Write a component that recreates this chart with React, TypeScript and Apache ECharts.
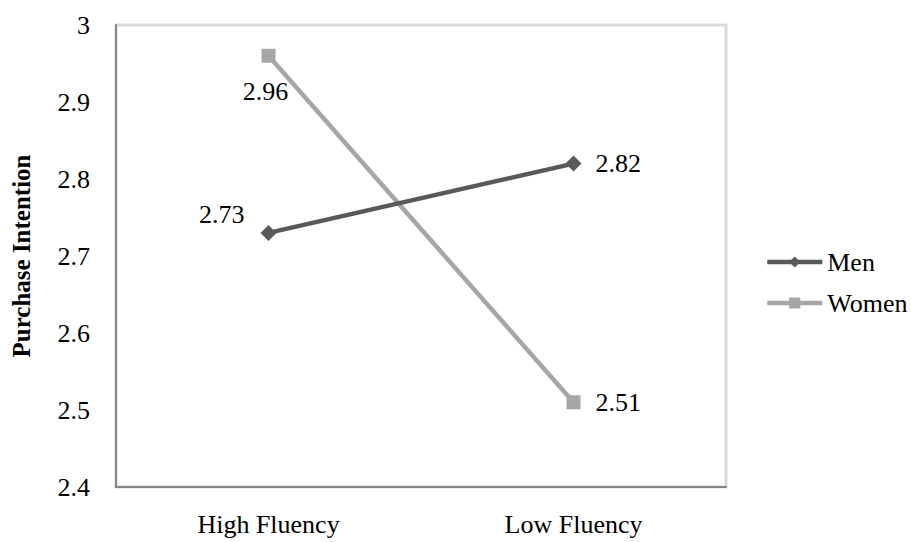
import React, { useEffect, useRef } from "react";
import * as echarts from "echarts";

const categories = ["High Fluency", "Low Fluency"];
const menValues = [2.73, 2.82];
const womenValues = [2.96, 2.51];
const yMin = 2.4;
const yMax = 3;
const yStep = 0.1;

const FONT = "Liberation Serif";

export default function App() {
  const ref = useRef<HTMLDivElement | null>(null);

  useEffect(() => {
    if (!ref.current) return;
    const chart = echarts.init(ref.current, undefined, { renderer: "svg" });
    const textBase = { fontFamily: FONT, fontSize: 26, color: "#000" };

    chart.setOption({
      animation: false,
      backgroundColor: "#fff",
      textStyle: { fontFamily: FONT },
      grid: {
        left: 116,
        right: 185,
        top: 25,
        bottom: 55,
        show: true,
        borderColor: "#d9d9d9",
        borderWidth: 3,
        backgroundColor: "#fff",
      },
      legend: {
        orient: "vertical",
        left: 765,
        top: 249,
        padding: 0,
        itemWidth: 55,
        itemHeight: 14,
        itemGap: 15,
        lineStyle: { width: 4.5 },
        textStyle: { ...textBase },
        data: ["Men", "Women"],
      },
      xAxis: {
        type: "category",
        data: categories,
        boundaryGap: true,
        axisLine: { show: true, lineStyle: { color: "#868686", width: 2 } },
        axisTick: { show: false },
        axisLabel: { ...textBase, margin: 24 },
        splitLine: { show: false },
      },
      yAxis: {
        type: "value",
        min: yMin,
        max: yMax,
        interval: yStep,
        name: "Purchase Intention",
        nameLocation: "middle",
        nameRotate: 90,
        nameGap: 82,
        nameTextStyle: { fontFamily: FONT, fontSize: 25, fontWeight: "bold", color: "#000" },
        axisLine: { show: true, lineStyle: { color: "#868686", width: 2 } },
        axisTick: { show: false },
        splitLine: { show: false },
        axisLabel: {
          ...textBase,
          margin: 26,
          formatter: (v: number) => String(+v.toFixed(1)),
        },
      },
      series: [
        {
          name: "Men",
          type: "line",
          symbol: "diamond",
          symbolSize: 16,
          lineStyle: { color: "#595959", width: 4.5 },
          itemStyle: { color: "#595959" },
          z: 3,
          label: {
            show: true,
            ...textBase,
            formatter: (p: any) => p.value.toFixed(2),
          },
          emphasis: { disabled: true },
          data: [
            { value: menValues[0], label: { position: "left", distance: 16, offset: [0, -18] } },
            { value: menValues[1], label: { position: "right", distance: 14 } },
          ],
        },
        {
          name: "Women",
          type: "line",
          symbol: "rect",
          symbolSize: 14,
          lineStyle: { color: "#a6a6a6", width: 4.5 },
          itemStyle: { color: "#a6a6a6" },
          z: 2,
          label: {
            show: true,
            ...textBase,
            formatter: (p: any) => p.value.toFixed(2),
          },
          emphasis: { disabled: true },
          data: [
            { value: womenValues[0], label: { position: "bottom", distance: 16, offset: [-3, 0] } },
            { value: womenValues[1], label: { position: "right", distance: 15 } },
          ],
        },
      ],
    });

    return () => chart.dispose();
  }, []);

  return (
    <div
      ref={ref}
      style={{ position: "absolute", left: 0, top: 0, width: 911, height: 542, background: "#fff" }}
    />
  );
}
